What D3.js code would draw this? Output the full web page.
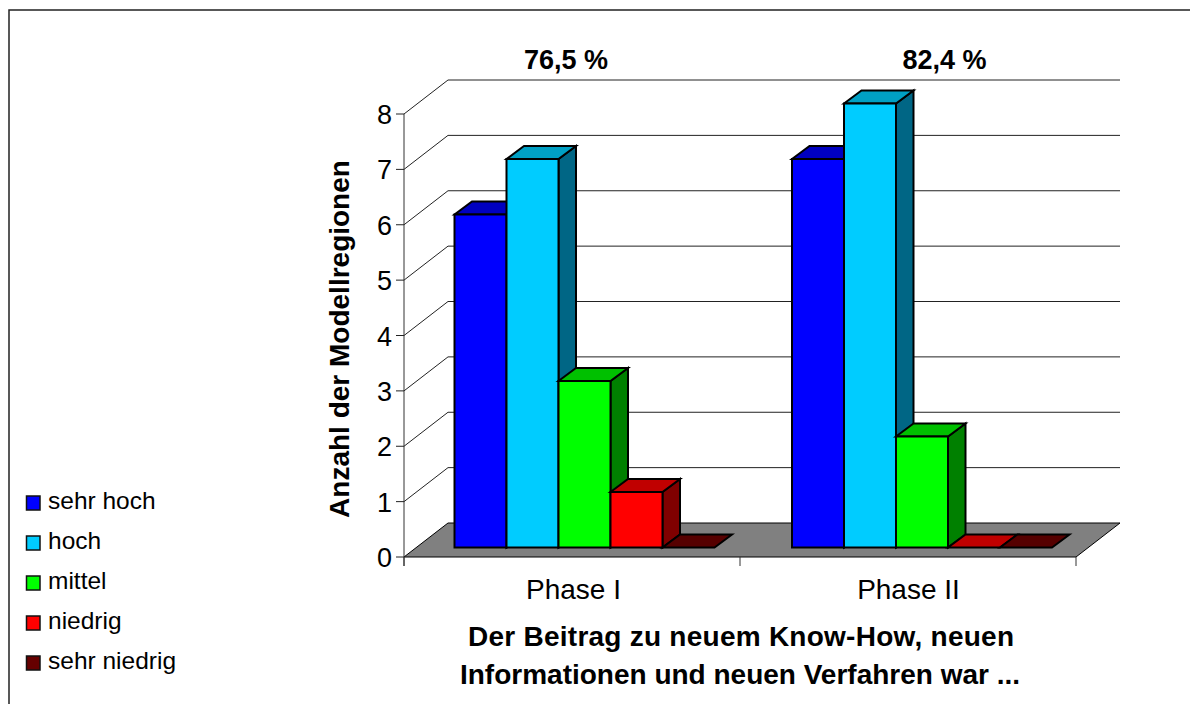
<!DOCTYPE html>
<html><head><meta charset="utf-8">
<script src="https://cdn.jsdelivr.net/npm/d3@7"></script>
<style>html,body{margin:0;padding:0;background:#fff}svg{display:block}text{font-family:"Liberation Sans",Arial,sans-serif;fill:#000}</style>
</head><body><div id="c"></div>
<script>
const phases = ["Phase I","Phase II"];
const series = ["sehr hoch","hoch","mittel","niedrig","sehr niedrig"];
const phase1 = [6,7,3,1,0];
const phase2 = [7,8,2,0,0];
const totals = ["76,5 %","82,4 %"];
const yTicks = [0,1,2,3,4,5,6,7,8];
const frontCol = ["#0000ff","#00ccff","#00ff00","#ff0000","#660000"];
const topCol = ["#0000c0","#00a0c4","#00c000","#c00000","#560000"];
const sideCol = ["#000080","#006685","#008000","#800000","#400000"];

const W=1190,H=704;
const svg=d3.select("#c").append("svg").attr("width",W).attr("height",H);
svg.append("path").attr("d",`M9,${H}V10H${W}`).attr("fill","none").attr("stroke","#222").attr("stroke-width",1.5);

const x=d3.scaleBand().domain(phases).range([404,1076]);
const y=d3.scaleLinear().domain([0,8]).range([557,114]);
const dx=44,dy=34;
const g=svg.append("g");

yTicks.slice(1).forEach(t=>{
  const yy=y(t);
  g.append("path").attr("d",`M404,${yy}L${404+dx},${yy-dy}H${1076+dx}`).attr("fill","none").attr("stroke","#222").attr("stroke-width",1);
});
g.append("path").attr("d",`M404,557L${404+dx},${557-dy}H${1076+dx}L1076,557Z`).attr("fill","#808080").attr("stroke","#000").attr("stroke-width",1);
g.append("path").attr("d","M404,114V566").attr("stroke","#333").attr("fill","none");
yTicks.forEach(t=>g.append("path").attr("d",`M396,${y(t)}H404`).attr("stroke","#222"));
[404,740,1076].forEach(v=>g.append("path").attr("d",`M${v},557V566`).attr("stroke","#333"));
yTicks.forEach(t=>g.append("text").attr("x",392).attr("y",y(t)+10).attr("text-anchor","end").attr("font-size",27).text(t));
phases.forEach((p,i)=>g.append("text").attr("x",x(p)+x.bandwidth()/2+1.5-i).attr("y",599).attr("text-anchor","middle").attr("font-size",28).text(p));

const barX=d3.scaleBand().domain(phases).range([454.5,1129.5]);
const inner=d3.scaleBand().domain(series).range([0,260]);
const yBar=d3.scaleLinear().domain([0,8]).range([547.5,103.5]);
const bdx=17.5,bdy=13;
[phase1,phase2].forEach((vals,pi)=>{
  series.forEach((s,i)=>{
    const x0=barX(phases[pi])+inner(s), w=inner.bandwidth(), yt=yBar(vals[i]), yb=yBar(0);
    const bar=g.append("g").attr("stroke","#000").attr("stroke-width",2).attr("stroke-linejoin","miter");
    if(vals[i]>0){
      bar.append("path").attr("d",`M${x0+w},${yt}l${bdx},${-bdy}V${yb-bdy}L${x0+w},${yb}Z`).attr("fill",sideCol[i]);
      bar.append("path").attr("d",`M${x0},${yt}l${bdx},${-bdy}h${w}l${-bdx},${bdy}Z`).attr("fill",topCol[i]);
      bar.append("rect").attr("x",x0).attr("y",yt).attr("width",w).attr("height",yb-yt).attr("fill",frontCol[i]);
    } else {
      bar.append("path").attr("d",`M${x0},${yb}l${bdx},${-bdy}h${w}l${-bdx},${bdy}Z`).attr("fill",topCol[i]);
    }
  });
});
totals.forEach((t,i)=>svg.append("text").attr("x",[566,944.5][i]).attr("y",69).attr("text-anchor","middle").attr("font-size",27).attr("font-weight","bold").text(t));
svg.append("text").attr("transform","translate(349,339) rotate(-90)").attr("text-anchor","middle").attr("font-size",28).attr("font-weight","bold").text("Anzahl der Modellregionen");
svg.append("text").attr("x",741).attr("y",646).attr("text-anchor","middle").attr("font-size",28).attr("font-weight","bold").attr("textLength",546).text("Der Beitrag zu neuem Know-How, neuen");
svg.append("text").attr("x",740).attr("y",684).attr("text-anchor","middle").attr("font-size",28).attr("font-weight","bold").text("Informationen und neuen Verfahren war ...");
const ly=d3.scalePoint().domain(series).range([503,663]);
series.forEach((s,i)=>{
  svg.append("rect").attr("x",26.5).attr("y",ly(s)-7).attr("width",13.5).attr("height",14).attr("fill",frontCol[i]).attr("stroke","#111").attr("stroke-width",1.5);
  svg.append("text").attr("x",48).attr("y",ly(s)+6).attr("font-size",24.5).text(s);
});
</script></body></html>
